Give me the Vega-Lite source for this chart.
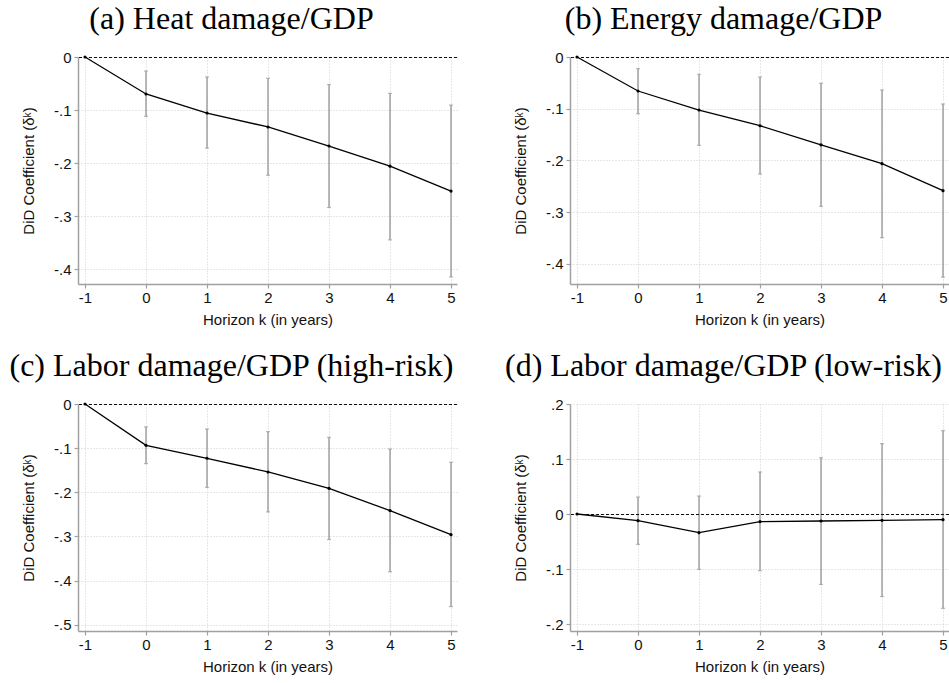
{
  "$schema": "https://vega.github.io/schema/vega-lite/v6.json",
  "autosize": {"type": "none"},
  "padding": {"left": 78, "top": 57, "right": 871, "bottom": 626},
  "background": "white",
  "datasets": {
    "d": [
      {"panel": "a", "k": -1, "b": 0, "lo": null, "hi": null},
      {"panel": "a", "k": 0, "b": -0.0698, "lo": -0.112, "hi": -0.0264},
      {"panel": "a", "k": 1, "b": -0.1057, "lo": -0.172, "hi": -0.0377},
      {"panel": "a", "k": 2, "b": -0.132, "lo": -0.223, "hi": -0.040},
      {"panel": "a", "k": 3, "b": -0.168, "lo": -0.284, "hi": -0.052},
      {"panel": "a", "k": 4, "b": -0.206, "lo": -0.345, "hi": -0.0686},
      {"panel": "a", "k": 5, "b": -0.253, "lo": -0.415, "hi": -0.0906},
      {"panel": "b", "k": -1, "b": 0, "lo": null, "hi": null},
      {"panel": "b", "k": 0, "b": -0.0658, "lo": -0.1097, "hi": -0.0226},
      {"panel": "b", "k": 1, "b": -0.1026, "lo": -0.171, "hi": -0.0335},
      {"panel": "b", "k": 2, "b": -0.133, "lo": -0.2265, "hi": -0.0387},
      {"panel": "b", "k": 3, "b": -0.170, "lo": -0.289, "hi": -0.051},
      {"panel": "b", "k": 4, "b": -0.2065, "lo": -0.3497, "hi": -0.0639},
      {"panel": "b", "k": 5, "b": -0.2587, "lo": -0.426, "hi": -0.091},
      {"panel": "c", "k": -1, "b": 0, "lo": null, "hi": null},
      {"panel": "c", "k": 0, "b": -0.0936, "lo": -0.135, "hi": -0.052},
      {"panel": "c", "k": 1, "b": -0.123, "lo": -0.189, "hi": -0.0566},
      {"panel": "c", "k": 2, "b": -0.154, "lo": -0.2445, "hi": -0.0626},
      {"panel": "c", "k": 3, "b": -0.191, "lo": -0.307, "hi": -0.0755},
      {"panel": "c", "k": 4, "b": -0.2415, "lo": -0.380, "hi": -0.102},
      {"panel": "c", "k": 5, "b": -0.296, "lo": -0.459, "hi": -0.132},
      {"panel": "d", "k": -1, "b": 0, "lo": null, "hi": null},
      {"panel": "d", "k": 0, "b": -0.0121, "lo": -0.0552, "hi": 0.0309},
      {"panel": "d", "k": 1, "b": -0.0339, "lo": -0.1006, "hi": 0.0327},
      {"panel": "d", "k": 2, "b": -0.0139, "lo": -0.103, "hi": 0.0764},
      {"panel": "d", "k": 3, "b": -0.0127, "lo": -0.128, "hi": 0.1024},
      {"panel": "d", "k": 4, "b": -0.0115, "lo": -0.150, "hi": 0.128},
      {"panel": "d", "k": 5, "b": -0.0103, "lo": -0.1715, "hi": 0.1515}
    ]
  },
  "columns": 2,
  "spacing": {"row": 120, "column": 113},
  "bounds": "flush",
  "concat": [
    {
      "width": 379, "height": 227,
      "title": {"text": "(a) Heat damage/GDP"},
      "data": {"name": "d"},
      "transform": [{"filter": "datum.panel == 'a'"}],
      "layer": [
        {
          "mark": {"type": "rule", "color": "#9a9a9a", "strokeWidth": 1.4},
          "encoding": {
            "x": {"field": "k", "type": "quantitative", "scale": {"domain": [-1.115, 5.098], "nice": false, "zero": false}, "axis": {"title": "Horizon k (in years)", "values": [-1, 0, 1, 2, 3, 4, 5], "labelExpr": "datum.value < 0 ? '-' + abs(datum.value) : '' + datum.value"}},
            "y": {"field": "lo", "type": "quantitative", "scale": {"domain": [-0.4283, 0], "nice": false, "zero": false}, "axis": {"title": "DiD Coefficient (δᵏ)", "values": [0, -0.1, -0.2, -0.3, -0.4], "labelExpr": "replace(replace(format(datum.value, '.1~f'), '\u2212', '-'), '0.', '.')"}},
            "y2": {"field": "hi"}
          }
        },
        {
          "mark": {"type": "tick", "orient": "horizontal", "size": 4, "thickness": 1.2, "color": "#9a9a9a"},
          "encoding": {
            "x": {"field": "k", "type": "quantitative"},
            "y": {"field": "lo", "type": "quantitative", "title": "DiD Coefficient (δᵏ)"}
          }
        },
        {
          "mark": {"type": "tick", "orient": "horizontal", "size": 4, "thickness": 1.2, "color": "#9a9a9a"},
          "encoding": {
            "x": {"field": "k", "type": "quantitative"},
            "y": {"field": "hi", "type": "quantitative", "title": "DiD Coefficient (δᵏ)"}
          }
        },
        {
          "mark": {"type": "rule", "color": "#111111", "strokeWidth": 1, "strokeDash": [3, 2], "yOffset": 0.5},
          "encoding": {"y": {"datum": 0, "type": "quantitative"}}
        },
        {
          "mark": {"type": "line", "color": "black", "strokeWidth": 1.3},
          "encoding": {
            "x": {"field": "k", "type": "quantitative"},
            "y": {"field": "b", "type": "quantitative", "title": "DiD Coefficient (δᵏ)"}
          }
        },
        {
          "mark": {"type": "circle", "color": "black", "size": 10, "opacity": 1},
          "encoding": {
            "x": {"field": "k", "type": "quantitative"},
            "y": {"field": "b", "type": "quantitative", "title": "DiD Coefficient (δᵏ)"}
          }
        }
      ]
    },
    {
      "width": 379, "height": 227,
      "title": {"text": "(b) Energy damage/GDP"},
      "data": {"name": "d"},
      "transform": [{"filter": "datum.panel == 'b'"}],
      "layer": [
        {
          "mark": {"type": "rule", "color": "#9a9a9a", "strokeWidth": 1.4},
          "encoding": {
            "x": {"field": "k", "type": "quantitative", "scale": {"domain": [-1.115, 5.098], "nice": false, "zero": false}, "axis": {"title": "Horizon k (in years)", "values": [-1, 0, 1, 2, 3, 4, 5], "labelExpr": "datum.value < 0 ? '-' + abs(datum.value) : '' + datum.value"}},
            "y": {"field": "lo", "type": "quantitative", "scale": {"domain": [-0.4393, 0], "nice": false, "zero": false}, "axis": {"title": "DiD Coefficient (δᵏ)", "values": [0, -0.1, -0.2, -0.3, -0.4], "labelExpr": "replace(replace(format(datum.value, '.1~f'), '\u2212', '-'), '0.', '.')"}},
            "y2": {"field": "hi"}
          }
        },
        {
          "mark": {"type": "tick", "orient": "horizontal", "size": 4, "thickness": 1.2, "color": "#9a9a9a"},
          "encoding": {
            "x": {"field": "k", "type": "quantitative"},
            "y": {"field": "lo", "type": "quantitative", "title": "DiD Coefficient (δᵏ)"}
          }
        },
        {
          "mark": {"type": "tick", "orient": "horizontal", "size": 4, "thickness": 1.2, "color": "#9a9a9a"},
          "encoding": {
            "x": {"field": "k", "type": "quantitative"},
            "y": {"field": "hi", "type": "quantitative", "title": "DiD Coefficient (δᵏ)"}
          }
        },
        {
          "mark": {"type": "rule", "color": "#111111", "strokeWidth": 1, "strokeDash": [3, 2], "yOffset": 0.5},
          "encoding": {"y": {"datum": 0, "type": "quantitative"}}
        },
        {
          "mark": {"type": "line", "color": "black", "strokeWidth": 1.3},
          "encoding": {
            "x": {"field": "k", "type": "quantitative"},
            "y": {"field": "b", "type": "quantitative", "title": "DiD Coefficient (δᵏ)"}
          }
        },
        {
          "mark": {"type": "circle", "color": "black", "size": 10, "opacity": 1},
          "encoding": {
            "x": {"field": "k", "type": "quantitative"},
            "y": {"field": "b", "type": "quantitative", "title": "DiD Coefficient (δᵏ)"}
          }
        }
      ]
    },
    {
      "width": 379, "height": 227,
      "title": {"text": "(c) Labor damage/GDP (high-risk)"},
      "data": {"name": "d"},
      "transform": [{"filter": "datum.panel == 'c'"}],
      "layer": [
        {
          "mark": {"type": "rule", "color": "#9a9a9a", "strokeWidth": 1.4},
          "encoding": {
            "x": {"field": "k", "type": "quantitative", "scale": {"domain": [-1.115, 5.098], "nice": false, "zero": false}, "axis": {"title": "Horizon k (in years)", "values": [-1, 0, 1, 2, 3, 4, 5], "labelExpr": "datum.value < 0 ? '-' + abs(datum.value) : '' + datum.value"}},
            "y": {"field": "lo", "type": "quantitative", "scale": {"domain": [-0.5143, 0], "nice": false, "zero": false}, "axis": {"title": "DiD Coefficient (δᵏ)", "values": [0, -0.1, -0.2, -0.3, -0.4, -0.5], "labelExpr": "replace(replace(format(datum.value, '.1~f'), '\u2212', '-'), '0.', '.')"}},
            "y2": {"field": "hi"}
          }
        },
        {
          "mark": {"type": "tick", "orient": "horizontal", "size": 4, "thickness": 1.2, "color": "#9a9a9a"},
          "encoding": {
            "x": {"field": "k", "type": "quantitative"},
            "y": {"field": "lo", "type": "quantitative", "title": "DiD Coefficient (δᵏ)"}
          }
        },
        {
          "mark": {"type": "tick", "orient": "horizontal", "size": 4, "thickness": 1.2, "color": "#9a9a9a"},
          "encoding": {
            "x": {"field": "k", "type": "quantitative"},
            "y": {"field": "hi", "type": "quantitative", "title": "DiD Coefficient (δᵏ)"}
          }
        },
        {
          "mark": {"type": "rule", "color": "#111111", "strokeWidth": 1, "strokeDash": [3, 2], "yOffset": 0.5},
          "encoding": {"y": {"datum": 0, "type": "quantitative"}}
        },
        {
          "mark": {"type": "line", "color": "black", "strokeWidth": 1.3},
          "encoding": {
            "x": {"field": "k", "type": "quantitative"},
            "y": {"field": "b", "type": "quantitative", "title": "DiD Coefficient (δᵏ)"}
          }
        },
        {
          "mark": {"type": "circle", "color": "black", "size": 10, "opacity": 1},
          "encoding": {
            "x": {"field": "k", "type": "quantitative"},
            "y": {"field": "b", "type": "quantitative", "title": "DiD Coefficient (δᵏ)"}
          }
        }
      ]
    },
    {
      "width": 379, "height": 227,
      "title": {"text": "(d) Labor damage/GDP (low-risk)"},
      "data": {"name": "d"},
      "transform": [{"filter": "datum.panel == 'd'"}],
      "layer": [
        {
          "mark": {"type": "rule", "color": "#9a9a9a", "strokeWidth": 1.4},
          "encoding": {
            "x": {"field": "k", "type": "quantitative", "scale": {"domain": [-1.115, 5.098], "nice": false, "zero": false}, "axis": {"title": "Horizon k (in years)", "values": [-1, 0, 1, 2, 3, 4, 5], "labelExpr": "datum.value < 0 ? '-' + abs(datum.value) : '' + datum.value"}},
            "y": {"field": "lo", "type": "quantitative", "scale": {"domain": [-0.2127, 0.2], "nice": false, "zero": false}, "axis": {"title": "DiD Coefficient (δᵏ)", "values": [0.2, 0.1, 0, -0.1, -0.2], "labelExpr": "replace(replace(format(datum.value, '.1~f'), '\u2212', '-'), '0.', '.')"}},
            "y2": {"field": "hi"}
          }
        },
        {
          "mark": {"type": "tick", "orient": "horizontal", "size": 4, "thickness": 1.2, "color": "#9a9a9a"},
          "encoding": {
            "x": {"field": "k", "type": "quantitative"},
            "y": {"field": "lo", "type": "quantitative", "title": "DiD Coefficient (δᵏ)"}
          }
        },
        {
          "mark": {"type": "tick", "orient": "horizontal", "size": 4, "thickness": 1.2, "color": "#9a9a9a"},
          "encoding": {
            "x": {"field": "k", "type": "quantitative"},
            "y": {"field": "hi", "type": "quantitative", "title": "DiD Coefficient (δᵏ)"}
          }
        },
        {
          "mark": {"type": "rule", "color": "#111111", "strokeWidth": 1, "strokeDash": [3, 2], "yOffset": 0.5},
          "encoding": {"y": {"datum": 0, "type": "quantitative"}}
        },
        {
          "mark": {"type": "line", "color": "black", "strokeWidth": 1.3},
          "encoding": {
            "x": {"field": "k", "type": "quantitative"},
            "y": {"field": "b", "type": "quantitative", "title": "DiD Coefficient (δᵏ)"}
          }
        },
        {
          "mark": {"type": "circle", "color": "black", "size": 10, "opacity": 1},
          "encoding": {
            "x": {"field": "k", "type": "quantitative"},
            "y": {"field": "b", "type": "quantitative", "title": "DiD Coefficient (δᵏ)"}
          }
        }
      ]
    }
  ],
  "config": {
    "view": {"stroke": null},
    "font": "Liberation Sans",
    "axis": {
      "domainColor": "#a0a0a0", "domainWidth": 1.5,
      "tickColor": "#a0a0a0", "tickSize": 4, "tickWidth": 1.2,
      "labelFont": "Liberation Sans", "labelFontSize": 15, "labelColor": "#111111", "labelPadding": 3,
      "labelOverlap": false, "labelFlush": false,
      "titleFont": "Liberation Sans", "titleFontSize": 15, "titleFontWeight": "normal", "titleColor": "#111111",
      "grid": true, "gridColor": "#cfcfcf", "gridDash": [1, 2], "gridWidth": 1
    },
    "axisX": {"titlePadding": 7, "labelPadding": 2},
    "axisY": {"titlePadding": 17},
    "title": {"font": "Liberation Serif", "fontSize": 32, "fontWeight": "normal", "color": "#000000", "anchor": "middle", "frame": "group", "dx": -36, "offset": 14}
  }
}
